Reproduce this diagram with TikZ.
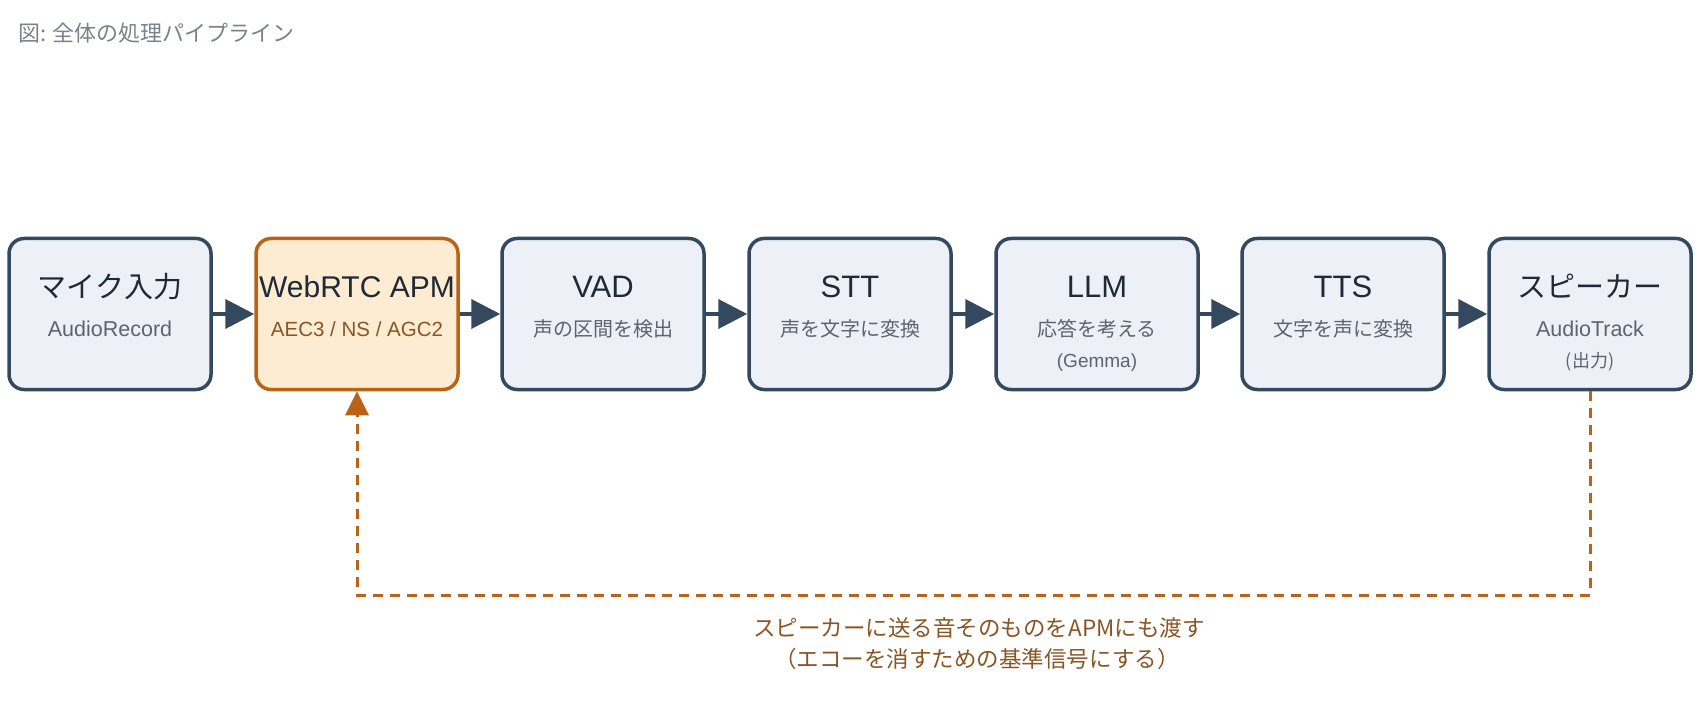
\documentclass[tikz,border=0pt]{standalone}
\usepackage{fontspec}
\setmainfont{Noto Sans CJK JP}
\newfontfamily\latinfont{Liberation Sans}
\usetikzlibrary{arrows.meta, calc}

\definecolor{boxfill}{HTML}{EDF1F7}
\definecolor{boxline}{HTML}{34495E}
\definecolor{apmfill}{HTML}{FDEBD2}
\definecolor{apmline}{HTML}{BA6316}
\definecolor{apmtext}{HTML}{8A5524}
\definecolor{headtext}{HTML}{1E2A36}
\definecolor{subtext}{HTML}{5C6470}
\definecolor{captext}{HTML}{7B818B}

\begin{document}
\begin{tikzpicture}[x=1pt, y=-1pt,
    stage/.style={draw=boxline, line width=3.5pt, fill=boxfill, rounded corners=15pt,
        minimum width=202pt, minimum height=151pt, inner sep=0pt},
    apmstage/.style={stage, draw=apmline, fill=apmfill},
    head/.style={anchor=base, inner sep=0pt, text=headtext, font=\fontsize{29}{34}\selectfont},
    latinhead/.style={head, font=\latinfont\fontsize{31}{36}\selectfont},
    sub/.style={anchor=base, inner sep=0pt, text=subtext, font=\fontsize{20}{24}\selectfont},
    latinsub/.style={sub, font=\latinfont\fontsize{21.5}{26}\selectfont},
    extra/.style={anchor=base, inner sep=0pt, text=subtext, font=\fontsize{18}{22}\selectfont},
    flow/.style={draw=boxline, line width=4pt, -{Triangle[length=29pt, width=29pt]}},
    loopback/.style={draw=apmline, line width=3pt, dash pattern=on 10pt off 7pt,
        -{Triangle[length=24pt, width=23pt]}}]

    \useasboundingbox (0,0) rectangle (1700,714);

    % caption
    \node[anchor=base west, inner sep=0pt, text=captext, font=\fontsize{22}{26}\selectfont]
        (caption) at (18,42) {図: 全体の処理パイプライン};

    % stages
    \node[stage] (mic) at (110,314) {};
    \node[apmstage] (apm) at (357,314) {};
    \node[stage] (vad) at (603,314) {};
    \node[stage] (stt) at (850,314) {};
    \node[stage] (llm) at (1097,314) {};
    \node[stage] (tts) at (1343,314) {};
    \node[stage] (spk) at (1590,314) {};

    \node[head] (mic-head) at (110,297) {マイク入力};
    \node[latinsub] (mic-sub) at (110,336) {AudioRecord};

    \node[latinhead, font=\latinfont\fontsize{30}{36}\selectfont] (apm-head) at (357,297) {WebRTC APM};
    \node[latinsub, text=apmtext, font=\latinfont\fontsize{20.5}{26}\selectfont] (apm-sub) at (357,336) {AEC3 / NS / AGC2};

    \node[latinhead] (vad-head) at (603,297) {VAD};
    \node[sub] (vad-sub) at (603,336) {声の区間を検出};

    \node[latinhead] (stt-head) at (850,297) {STT};
    \node[sub] (stt-sub) at (850,336) {声を文字に変換};

    \node[latinhead] (llm-head) at (1097,297) {LLM};
    \node[sub] (llm-sub) at (1097,336) {応答を考える};
    \node[extra, font=\latinfont\fontsize{19}{22}\selectfont] (llm-extra) at (1097,367) {(Gemma)};

    \node[latinhead] (tts-head) at (1343,297) {TTS};
    \node[sub] (tts-sub) at (1343,336) {文字を声に変換};

    \node[head] (spk-head) at (1590,297) {スピーカー};
    \node[latinsub] (spk-sub) at (1590,336) {AudioTrack};
    \node[extra] (spk-extra) at (1590,367) {(出力)};

    % main flow
    \draw[flow] (mic) -- (apm);
    \draw[flow] (apm) -- (vad);
    \draw[flow] (vad) -- (stt);
    \draw[flow] (stt) -- (llm);
    \draw[flow] (llm) -- (tts);
    \draw[flow] (tts) -- (spk);

    % reference signal back to the APM
    \coordinate (turn-r) at (1590,595);
    \coordinate (turn-l) at (357,595);
    \draw[loopback] (spk.south) -- (turn-r) -- (turn-l) -- (apm.south);

    \node[anchor=base, inner sep=0pt, text=apmtext, font=\fontsize{22.5}{32}\selectfont]
        (note1) at (979,636) {スピーカーに送る音そのものをAPMにも渡す};
    \node[anchor=base, inner sep=0pt, text=apmtext, font=\fontsize{22.5}{32}\selectfont]
        (note2) at (977,667) {（エコーを消すための基準信号にする）};
\end{tikzpicture}
\end{document}
